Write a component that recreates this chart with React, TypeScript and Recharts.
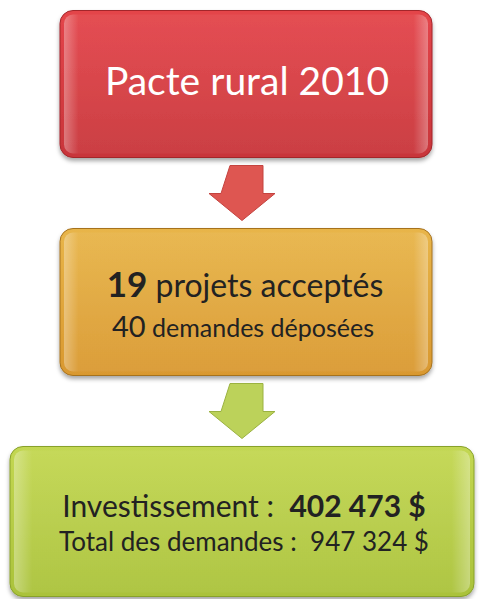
import { Bar, BarChart, XAxis, YAxis } from "recharts";

// flow stages, top to bottom
const stages = ["Pacte rural 2010", "Projets", "Montants"];
const projectCounts = [19, 40];
const projectLabels = ["projets acceptés", "demandes déposées"];
const amountLabels = ["Investissement :", "Total des demandes :"];
const amounts = [402473, 947324];

const palette = [
  { top: "#e4454a", bottom: "#c8353a", edge: "#a3262b", arrow: "#de5651", arrowEdge: "#c4433f" },
  { top: "#e8b549", bottom: "#d9982f", edge: "#a6721f", arrow: "#bcd25a", arrowEdge: "#9bb241" },
  { top: "#c3d752", bottom: "#aac23a", edge: "#88a12b", arrow: "", arrowEdge: "" },
];

const data = stages.map((name) => ({ name, span: 1 }));

const FONT = "Lato, 'Open Sans', sans-serif";

const money = (n: number) =>
  String(n).replace(/\B(?=(\d{3})+(?!\d))/g, " ") + " $";

function StageBox(props: any) {
  const { x, y, width, height, index } = props;
  const c = palette[index];
  // last box is wider than the others
  const bx = index === 2 ? x - 50 : x;
  const bw = index === 2 ? width + 92 : width;
  const bh = index === 2 ? height + 3 : height;
  const cx = x + width / 2;
  const cy = y + height / 2;
  const id = `stage-${index}`;

  return (
    <g>
      <defs>
        <linearGradient id={`${id}-fill`} x1="0" y1="0" x2="0" y2="1">
          <stop offset="0%" stopColor={c.top} />
          <stop offset="100%" stopColor={c.bottom} />
        </linearGradient>
        <linearGradient id={`${id}-gloss`} x1="0" y1="0" x2="1" y2="0">
          <stop offset="0%" stopColor="#fff" stopOpacity={0.55} />
          <stop offset="4%" stopColor="#fff" stopOpacity={0.08} />
          <stop offset="96%" stopColor="#fff" stopOpacity={0.08} />
          <stop offset="100%" stopColor="#fff" stopOpacity={0.55} />
        </linearGradient>
        <filter id={`${id}-shadow`} x="-10%" y="-10%" width="120%" height="130%">
          <feDropShadow dx="0" dy="3" stdDeviation="2" floodColor="#000" floodOpacity={0.35} />
        </filter>
      </defs>
      <rect
        x={bx}
        y={y}
        width={bw}
        height={bh}
        rx={13}
        fill={`url(#${id}-fill)`}
        stroke={c.edge}
        strokeWidth={1}
        filter={`url(#${id}-shadow)`}
      />
      <rect
        x={bx + 4}
        y={y + 4}
        width={bw - 8}
        height={bh - 8}
        rx={9}
        fill={`url(#${id}-gloss)`}
        opacity={0.6}
      />

      {index === 0 && (
        <text x={cx + 1} y={cy + 10.5} fill="#fff" fontSize={39} textAnchor="middle" fontFamily={FONT}>
          {stages[0]}
        </text>
      )}
      {index === 1 && (
        <text textAnchor="middle" fontFamily={FONT} fill="#222" style={{ whiteSpace: "pre" }}>
          <tspan x={cx - 1} y={cy - 5.5}>
            <tspan fontWeight={700} fontSize={35}>{projectCounts[0]}</tspan>
            <tspan fontSize={32}>{" " + projectLabels[0]}</tspan>
          </tspan>
          <tspan x={cx - 3} y={cy + 34.5}>
            <tspan fontSize={29}>{projectCounts[1]}</tspan>
            <tspan fontSize={25}>{" " + projectLabels[1]}</tspan>
          </tspan>
        </text>
      )}
      {index === 2 && (
        <text textAnchor="middle" fontFamily={FONT} fill="#222" style={{ whiteSpace: "pre" }}>
          <tspan x={cx - 2} y={cy - 3} fontSize={30}>
            <tspan>{amountLabels[0] + "  "}</tspan>
            <tspan fontWeight={700}>{money(amounts[0])}</tspan>
          </tspan>
          <tspan x={cx - 2} y={cy + 30.5} fontSize={26}>
            {amountLabels[1] + "  " + money(amounts[1])}
          </tspan>
        </text>
      )}

      {index < 2 && (
        <path
          d={`M${cx - 16} ${y + height + 8} h33 v28 h12 l-33 27 l-33 -27 h12 z`}
          fill={c.arrow}
          stroke={c.arrowEdge}
          strokeWidth={1}
        />
      )}
    </g>
  );
}

export default function App() {
  return (
    <div style={{ position: "absolute", left: 0, top: 0, width: 479, height: 599, overflow: "hidden", background: "#fff" }}>
      <BarChart
        width={479}
        height={599}
        data={data}
        layout="vertical"
        margin={{ top: -25.5, right: 47, bottom: -29.5, left: 60 }}
      >
        <XAxis type="number" domain={[0, 1]} hide />
        <YAxis type="category" dataKey="name" hide />
        <Bar dataKey="span" barSize={147} shape={<StageBox />} isAnimationActive={false} />
      </BarChart>
    </div>
  );
}
